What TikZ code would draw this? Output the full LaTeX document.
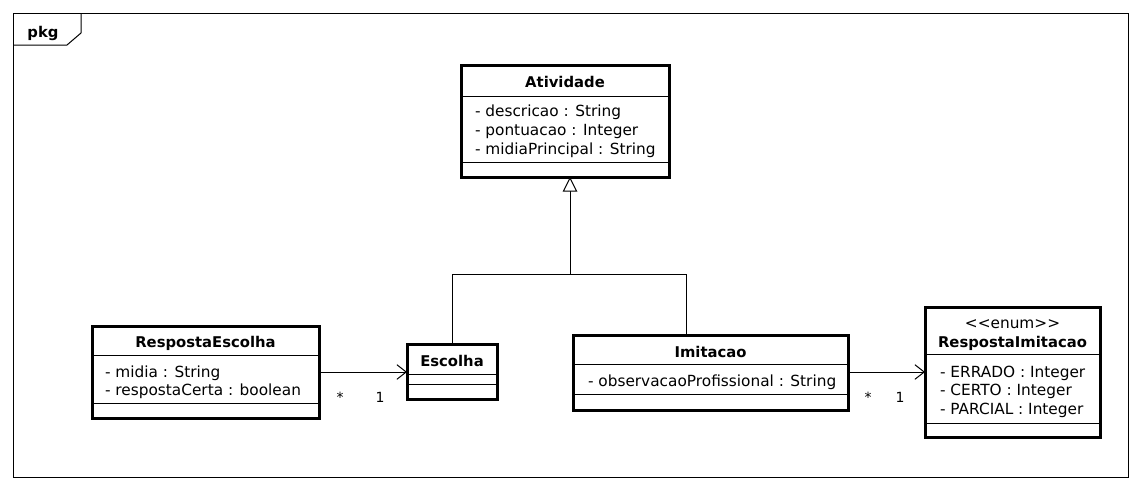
\documentclass[tikz,border=0pt]{standalone}
\usepackage{fontspec}
\setmainfont{DejaVu Sans}
\usetikzlibrary{arrows.meta}
\begin{document}
\begin{tikzpicture}[x=0.75pt,y=-0.75pt,
  txt/.style={inner sep=0pt, outer sep=0pt, font=\fontsize{11.5}{14.25}\selectfont, text height=10pt, text depth=1pt},
  ttl/.style={txt, font=\fontsize{11.1}{14.25}\selectfont\bfseries},
  attr/.style={txt, anchor=west},
  cls/.style={draw, line width=2.25pt, rectangle, inner sep=0pt, outer sep=0pt, fill=white},
  sepline/.style={line width=0.75pt},
  conn/.style={line width=0.75pt},
  assoc/.style={conn, -{Straight Barb[length=7pt,width=11pt,line width=0.75pt]}},
  gen/.style={conn, -{Triangle[open,length=11pt,width=11pt,line width=0.75pt,fill=white]}},
  mult/.style={inner sep=0pt, font=\fontsize{10.5}{12}\selectfont}
]
\fill[white] (0,0) rectangle (1141,490);
\useasboundingbox (0,0) rectangle (1141,490);

% package frame
\node[draw, line width=0.75pt, minimum width=836.25pt, minimum height=348pt, inner sep=0pt, outer sep=0pt] (frame) at (570.5,245) {};
\draw[line width=0.75pt] (81,13) -- (81,33) -- (67,45) -- (13,45);
\node[ttl] (pkg) at (43,31) {pkg};

% Atividade
\node[cls, minimum width=156pt, minimum height=84pt] (ativ) at (565,121) {};
\draw[sepline] (ativ.west |- 0,96) -- (ativ.east |- 0,96);
\draw[sepline] (ativ.west |- 0,162) -- (ativ.east |- 0,162);
\node[ttl] (ativT) at (565,81) {Atividade};
\node[attr] (ativA1) at (475,110) {- descricao : String};
\node[attr] (ativA2) at (475,129) {- pontuacao : Integer};
\node[attr] (ativA3) at (475,148) {- midiaPrincipal : String};

% RespostaEscolha
\node[cls, minimum width=170.25pt, minimum height=69pt] (re) at (205.5,372) {};
\draw[sepline] (re.west |- 0,355) -- (re.east |- 0,355);
\draw[sepline] (re.west |- 0,403) -- (re.east |- 0,403);
\node[ttl] (reT) at (205.5,341) {RespostaEscolha};
\node[attr] (reA1) at (105,371) {- midia : String};
\node[attr] (reA2) at (105,389) {- respostaCerta : boolean};

% Escolha
\node[cls, minimum width=67.5pt, minimum height=41.25pt] (esc) at (452,371.5) {};
\draw[sepline] (esc.west |- 0,374) -- (esc.east |- 0,374);
\draw[sepline] (esc.west |- 0,384) -- (esc.east |- 0,384);
\node[ttl] (escT) at (452,360) {Escolha};

% Imitacao
\node[cls, minimum width=206.25pt, minimum height=56.25pt] (imi) at (710.5,372.5) {};
\draw[sepline] (imi.west |- 0,364) -- (imi.east |- 0,364);
\draw[sepline] (imi.west |- 0,394) -- (imi.east |- 0,394);
\node[ttl] (imiT) at (710.5,351) {Imitacao};
\node[attr] (imiA1) at (588,380) {- observacaoProfissional : String};

% RespostaImitacao
\node[cls, minimum width=131.25pt, minimum height=97.5pt] (ri) at (1012.5,372) {};
\draw[sepline] (ri.west |- 0,354) -- (ri.east |- 0,354);
\draw[sepline] (ri.west |- 0,423) -- (ri.east |- 0,423);
\node[txt] (riS) at (1012.5,322) {<{}<enum>{}>};
\node[ttl] (riT) at (1012.5,341) {RespostaImitacao};
\node[attr] (riA1) at (940,371) {- ERRADO : Integer};
\node[attr] (riA2) at (940,389) {- CERTO : Integer};
\node[attr] (riA3) at (940,408) {- PARCIAL : Integer};

% generalization
\coordinate (j) at (570,274);
\coordinate (jl) at (452,274);
\coordinate (jr) at (686,274);
\draw[conn] (esc.north) -- (jl) -- (jr) -- (jr |- imi.north);
\draw[gen] (j) -- (j |- ativ.south);

% associations
\draw[assoc] (re.east |- 0,372) -- (esc.west |- 0,372);
\node[mult] (m1) at (340,397) {*};
\node[mult] (m2) at (380,397) {1};
\draw[assoc] (imi.east |- 0,372) -- (ri.west |- 0,372);
\node[mult] (m3) at (868,397) {*};
\node[mult] (m4) at (900,397) {1};
\end{tikzpicture}
\end{document}
